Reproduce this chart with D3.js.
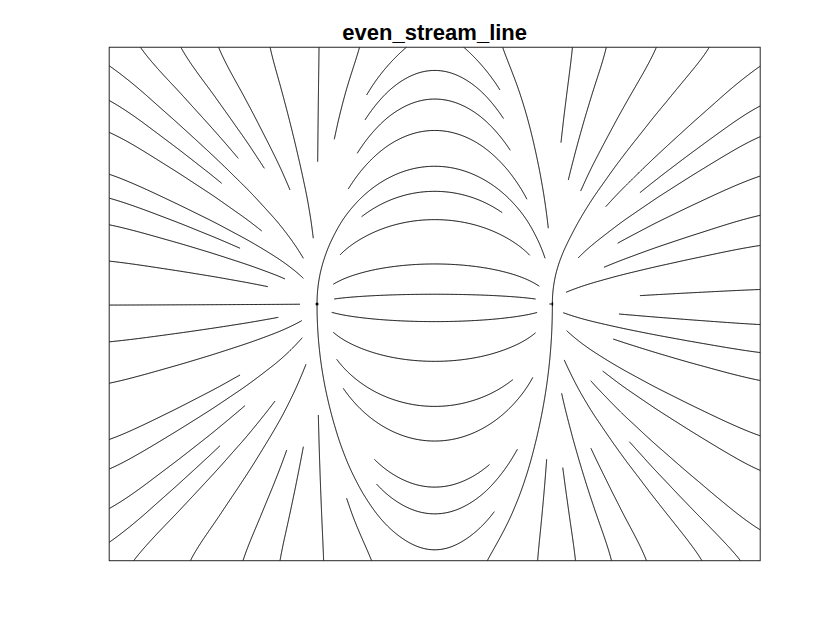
<!DOCTYPE html>
<html><head><meta charset="utf-8">
<script src="https://cdn.jsdelivr.net/npm/d3@7"></script>
<style>body{margin:0;background:#fff}svg{display:block}</style>
</head><body>
<svg id="c" width="840" height="630"></svg>
<script>
// ================= data =================
const titleText = "even_stream_line";
const xDomain = [-2, 2];
const yDomain = [-2, 2];
const gridSpacing = 0.2;                 // meshgrid(-2:.2:2)
// field: gradient of Z = X.*exp(-X.^2 - Y.^2)
const criticalPoints = [[-0.723, 0.0], [0.723, 0.0]];
// streamline pieces: [xStart, yStart, xEnd, yEnd] (data units);
// a null end means the line runs out to the border of the box
const leftUpperLines = [
  [-0.807, 0.356, null, null], [-1.207, 1.135, null, null], [-1.047, 1.057, null, null],
  [-0.889, 0.888, null, null], [-0.746, 0.512, null, null], [-1.063, 0.569, null, null],
  [-1.309, 0.940, null, null], [-0.807, 0.200, null, null], [-1.196, 0.434, null, null],
  [-0.920, 0.195, null, null], [-1.026, 0.135, null, null], [-0.828, -0.002, null, null],
  [-0.719, 1.109, null, null]
];
const topLines = [
  [-0.617, 1.283, null, null], [-0.418, 1.628, null, null],
  [0.401, 1.667, null, null], [0.698, 0.590, null, null]
];
const upperArcs = [
  [-0.428, 1.434, 0.422, 1.447], [-0.476, 1.174, 0.467, 1.200], [-0.531, 0.896, 0.571, 0.816],
  [0.678, 0.356, -0.723, 0.0], [-0.449, 0.680, 0.412, 0.707], [-0.582, 0.382, 0.575, 0.374],
  [-0.623, 0.154, 0.637, 0.135], [-0.617, 0.039, 0.622, 0.044]
];
const lowerArcs = [
  [-0.633, -0.065, 0.630, -0.065], [-0.623, -0.221, 0.616, -0.221], [-0.602, -0.431, 0.479, -0.587],
  [-0.562, -0.657, 0.596, -0.571], [-0.371, -1.210, 0.336, -1.254], [0.508, -1.132, -0.35, -1.40],
  [0.366, -1.618, -0.723, 0.0]
];
const leftLowerLines = [
  [-0.961, -0.104, null, null], [-0.817, -0.130, null, null], [-1.196, -0.553, null, null],
  [-0.814, -0.263, null, null], [-1.166, -0.792, null, null], [-0.981, -0.756, null, null],
  [-1.319, -1.104, null, null], [-0.791, -0.470, null, null], [-0.909, -1.137, null, null],
  [-0.807, -1.112, null, null], [-0.715, -0.865, null, null], [-0.541, -1.514, null, null]
];
const rightLowerLines = [
  [1.132, -0.078, null, null], [0.790, -0.068, null, null], [1.097, -0.273, null, null],
  [0.811, -0.208, null, null], [1.032, -0.522, null, null], [0.959, -0.598, null, null],
  [0.796, -0.436, null, null], [1.196, -1.073, null, null], [0.960, -1.124, null, null],
  [0.780, -0.696, null, null], [0.787, -1.275, null, null], [0.688, -1.210, null, null],
  [0.323, -2.0, 0.723, 0.0]
];
const rightUpperLines = [
  [0.807, 0.091, null, null], [1.040, 0.286, null, null], [0.881, 0.358, null, null],
  [1.124, 0.473, null, null], [1.261, 0.867, null, null], [1.051, 0.758, null, null],
  [0.897, 0.880, null, null], [0.821, 0.966, null, null], [0.776, 1.257, null, null],
  [1.687, 2.0, 0.723, 0.0], [1.261, 0.065, null, null]
];
const fillSep = [0.27], fillTest = [0.12];

// ================= field =================
const N = Math.round((xDomain[1]-xDomain[0])/gridSpacing) + 1;
const gv = d3.range(N).map(i => xDomain[0] + gridSpacing*i);
const Z = gv.map(y => gv.map(x => x*Math.exp(-x*x - y*y)));
const DX = Z.map(row => row.map((v, i) =>
  i === 0 ? (row[1]-row[0])/gridSpacing : i === N-1 ? (row[N-1]-row[N-2])/gridSpacing
          : (row[i+1]-row[i-1])/(2*gridSpacing)));
const DY = Z.map((row, j) => row.map((v, i) =>
  j === 0 ? (Z[1][i]-Z[0][i])/gridSpacing : j === N-1 ? (Z[N-1][i]-Z[N-2][i])/gridSpacing
          : (Z[j+1][i]-Z[j-1][i])/(2*gridSpacing)));
function interp(A, x, y) {
  let fi = (x - xDomain[0])/gridSpacing, fj = (y - yDomain[0])/gridSpacing;
  fi = Math.max(0, Math.min(N-1, fi)); fj = Math.max(0, Math.min(N-1, fj));
  const i0 = Math.min(Math.floor(fi), N-2), j0 = Math.min(Math.floor(fj), N-2);
  const tx = fi - i0, ty = fj - j0;
  return (1-tx)*(1-ty)*A[j0][i0] + tx*(1-ty)*A[j0][i0+1] + (1-tx)*ty*A[j0+1][i0] + tx*ty*A[j0+1][i0+1];
}
function dir(x, y) {
  const u = interp(DX, x, y), v = interp(DY, x, y), m = Math.hypot(u, v);
  if (m < 1e-7) return null;
  return [u/m, v/m];
}
const inside = p => p[0] >= xDomain[0] && p[0] <= xDomain[1] && p[1] >= yDomain[0] && p[1] <= yDomain[1];

// ================= occupancy =================
const cell = fillSep[0];
const occ = new Map();
const ck = (i, j) => i*10007 + j;
function addPoint(p) {
  const k = ck(Math.floor(p[0]/cell), Math.floor(p[1]/cell));
  if (!occ.has(k)) occ.set(k, []);
  occ.get(k).push(p);
}
function minDist(p) {
  const i = Math.floor(p[0]/cell), j = Math.floor(p[1]/cell);
  let best = Infinity;
  for (let a = -1; a <= 1; a++) for (let b = -1; b <= 1; b++) {
    const arr = occ.get(ck(i+a, j+b)); if (!arr) continue;
    for (const q of arr) { const d = Math.hypot(p[0]-q[0], p[1]-q[1]); if (d < best) best = d; }
  }
  return best;
}

// ================= tracing =================
const h = 0.005;
function traceHalf(seed, s, test) {
  const pts = [];
  let p = seed.slice(), prev = null;
  for (let n = 0; n < 4000; n++) {
    const d1 = dir(p[0], p[1]); if (!d1) break;
    const pm = [p[0] + s*h/2*d1[0], p[1] + s*h/2*d1[1]];
    const d2 = dir(pm[0], pm[1]); if (!d2) break;
    if (d1[0]*d2[0] + d1[1]*d2[1] < 0.3) break;
    if (prev && prev[0]*d2[0] + prev[1]*d2[1] < 0.3) break;
    const q = [p[0] + s*h*d2[0], p[1] + s*h*d2[1]];
    if (!inside(q)) {
      let t = 1;
      if (q[0] < xDomain[0]) t = Math.min(t, (xDomain[0]-p[0])/(q[0]-p[0]));
      if (q[0] > xDomain[1]) t = Math.min(t, (xDomain[1]-p[0])/(q[0]-p[0]));
      if (q[1] < yDomain[0]) t = Math.min(t, (yDomain[0]-p[1])/(q[1]-p[1]));
      if (q[1] > yDomain[1]) t = Math.min(t, (yDomain[1]-p[1])/(q[1]-p[1]));
      pts.push([p[0] + t*(q[0]-p[0]), p[1] + t*(q[1]-p[1])]);
      break;
    }
    if (test && minDist(q) < test) break;
    pts.push(q); p = q; prev = d2;
  }
  return pts;
}
const onBorder = p => Math.abs(p[0]) > 1.995 || Math.abs(p[1]) > 1.995;

function pieceFromEnds(e) {
  const A = [e[0], e[1]];
  const fw = traceHalf(A, 1, 0), bw = traceHalf(A, -1, 0);
  const full = bw.slice().reverse().concat([A], fw);
  const iA = bw.length;
  let j;
  if (e[2] === null) {
    const endB = full[0], endF = full[full.length-1];
    if (onBorder(endF) && !onBorder(endB)) j = full.length-1;
    else if (onBorder(endB) && !onBorder(endF)) j = 0;
    else j = fw.length >= bw.length ? full.length-1 : 0;
  } else {
    let best = Infinity; j = iA;
    full.forEach((p, k) => { const d = Math.hypot(p[0]-e[2], p[1]-e[3]); if (d < best) { best = d; j = k; } });
  }
  return full.slice(Math.min(iA, j), Math.max(iA, j) + 1);
}

const lines = [];
const groups = [leftUpperLines, topLines, upperArcs, lowerArcs, leftLowerLines, rightLowerLines, rightUpperLines];
for (const gr of groups) for (const e of gr) {
  const L = pieceFromEnds(e);
  if (L.length > 1) { lines.push(L); L.forEach(addPoint); }
}

// fill any remaining wide gaps with evenly spaced streamlines
const queue = lines.slice();
while (queue.length) {
  const L = queue.shift();
  for (let k = 0; k < L.length; k += 4) {
    const a = L[Math.max(0, k-1)], b = L[Math.min(L.length-1, k+1)];
    let tx = b[0]-a[0], ty = b[1]-a[1]; const m = Math.hypot(tx, ty);
    if (m < 1e-12) continue; tx /= m; ty /= m;
    for (const s of [1, -1]) {
      const c = [L[k][0] - s*ty*fillSep[0], L[k][1] + s*tx*fillSep[0]];
      if (!inside(c) || minDist(c) < fillSep[0]*0.99 || !dir(c[0], c[1])) continue;
      const fw = traceHalf(c, 1, fillTest[0]), bw = traceHalf(c, -1, fillTest[0]);
      const nl = bw.reverse().concat([c], fw);
      if (nl.length < 6) continue;
      lines.push(nl); nl.forEach(addPoint); queue.push(nl);
    }
  }
}

// ================= draw =================
const W = 840, H = 630;
const box = {x0: 109.2, x1: 760.2, y0: 47.25, y1: 560.7};
const xs = d3.scaleLinear().domain(xDomain).range([box.x0, box.x1]);
const ys = d3.scaleLinear().domain(yDomain).range([box.y1, box.y0]);
const svg = d3.select("#c");
svg.append("rect").attr("width", W).attr("height", H).attr("fill", "#fff");
const lineGen = d3.line().x(d => xs(d[0])).y(d => ys(d[1]));
svg.append("g").selectAll("path").data(lines).join("path")
  .attr("d", lineGen).attr("fill", "none").attr("stroke", "#000").attr("stroke-width", 1);

// tiny stubs where the streamlines end at the two critical points
const cp = svg.append("g").attr("stroke", "#000").attr("fill", "none").attr("stroke-width", 1.1);
cp.append("circle").attr("cx", xs(criticalPoints[0][0])).attr("cy", ys(criticalPoints[0][1]))
  .attr("r", 1).attr("fill", "#000");
cp.append("path").attr("d", () => {
  const cx = xs(criticalPoints[1][0]), cy = ys(criticalPoints[1][1]);
  return `M${cx-3},${cy}H${cx+1}M${cx},${cy-2}V${cy+2}`;
});

svg.append("rect").attr("x", box.x0).attr("y", box.y0)
  .attr("width", box.x1-box.x0).attr("height", box.y1-box.y0)
  .attr("fill", "none").attr("stroke", "#262626").attr("stroke-width", 1);
svg.append("text").attr("x", (box.x0+box.x1)/2).attr("y", 39.5)
  .attr("text-anchor", "middle")
  .attr("font-family", "'Liberation Sans', Arial, Helvetica, sans-serif")
  .attr("font-weight", "bold").attr("font-size", 22).attr("fill", "#000")
  .text(titleText);
</script>
</body></html>
